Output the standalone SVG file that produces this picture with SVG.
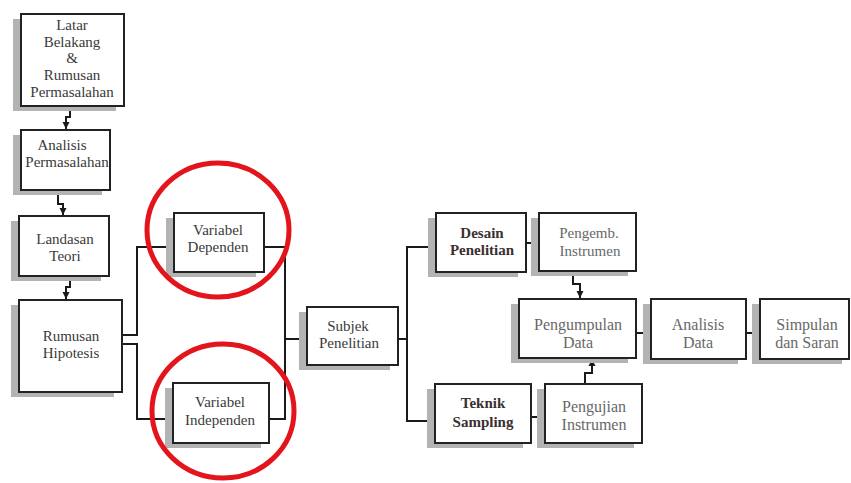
<svg xmlns="http://www.w3.org/2000/svg" width="851" height="483" viewBox="0 0 851 483">
  <style>
    .shadow { fill: #b3b3b3; }
    .box { fill: #ffffff; stroke: #222222; stroke-width: 2; }
    .lbl { font-size: 15px; fill: #3a3a3a; text-anchor: middle; }
    .lite { fill: #686868; }
    .big { font-size: 16px; }
    .bold { font-weight: bold; fill: #3a3030; }
    .wire { fill: none; stroke: #1a1a1a; stroke-width: 2; }
    .ring { fill: none; stroke: #e3141c; stroke-width: 5; }
  </style>
  <defs>
    <marker id="arrow" markerWidth="8" markerHeight="8" refX="7" refY="4" orient="auto" markerUnits="userSpaceOnUse">
      <path d="M0,0.5 L7,4 L0,7.5 Z" fill="#1a1a1a"/>
    </marker>
  </defs>

  <rect width="851" height="483" fill="#ffffff"/>

  <!-- connectors -->
  <g id="connectors">
    <path class="wire" d="M70,106 V117 H66 V129" marker-end="url(#arrow)"/>
    <path class="wire" d="M58,190 V204 H63 V215" marker-end="url(#arrow)"/>
    <path class="wire" d="M70,276 V287 H66 V299" marker-end="url(#arrow)"/>
    <path class="wire" d="M122,335 H137 V247 H173" marker-end="url(#arrow)"/>
    <path class="wire" d="M122,344 H137 V419 H172" marker-end="url(#arrow)"/>
    <path class="wire" d="M264,247 H285 V339 H306" marker-end="url(#arrow)"/>
    <path class="wire" d="M269,419 H285 V339"/>
    <path class="wire" d="M398,339 H407 V247 H435" marker-end="url(#arrow)"/>
    <path class="wire" d="M407,339 V421 H434" marker-end="url(#arrow)"/>
    <path class="wire" d="M526,243 H538" marker-end="url(#arrow)"/>
    <path class="wire" d="M573,271 V284 H580 V298" marker-end="url(#arrow)"/>
    <path class="wire" d="M531,417 H544" marker-end="url(#arrow)"/>
    <path class="wire" d="M585,384 V373 H592 V359" marker-end="url(#arrow)"/>
    <path class="wire" d="M636,333 H650" marker-end="url(#arrow)"/>
    <path class="wire" d="M746,333 H759" marker-end="url(#arrow)"/>
  </g>

  <!-- nodes -->
  <g font-family="'Liberation Serif', 'DejaVu Serif', serif">
  <g id="latar-belakang">
    <rect class="shadow" x="13" y="19" width="103" height="92"/>
    <rect class="box" x="21" y="14" width="103" height="92"/>
    <text class="lbl"><tspan x="72" y="30">Latar</tspan><tspan x="72" y="47">Belakang</tspan><tspan x="72" y="63">&amp;</tspan><tspan x="72" y="80">Rumusan</tspan><tspan x="72" y="97">Permasalahan</tspan></text>
  </g>

  <g id="analisis-permasalahan">
    <rect class="shadow" x="13" y="135" width="89" height="60"/>
    <rect class="box" x="21" y="130" width="89" height="60"/>
    <text class="lbl"><tspan x="62" y="150">Analisis</tspan><tspan x="67" y="167">Permasalahan</tspan></text>
  </g>

  <g id="landasan-teori">
    <rect class="shadow" x="11" y="221" width="90" height="60"/>
    <rect class="box" x="19" y="216" width="90" height="60"/>
    <text class="lbl"><tspan x="65" y="244">Landasan</tspan><tspan x="65" y="261">Teori</tspan></text>
  </g>

  <g id="rumusan-hipotesis">
    <rect class="shadow" x="11" y="305" width="103" height="92"/>
    <rect class="box" x="19" y="300" width="103" height="92"/>
    <text class="lbl"><tspan x="71" y="341">Rumusan</tspan><tspan x="71" y="358">Hipotesis</tspan></text>
  </g>

  <g id="variabel-dependen">
    <rect class="shadow" x="166" y="218" width="90" height="59"/>
    <rect class="box" x="174" y="213" width="90" height="59"/>
    <text class="lbl"><tspan x="218" y="235">Variabel</tspan><tspan x="218" y="252">Dependen</tspan></text>
  </g>

  <g id="variabel-independen">
    <rect class="shadow" x="165" y="388" width="96" height="60"/>
    <rect class="box" x="173" y="383" width="96" height="60"/>
    <text class="lbl"><tspan x="220" y="407">Variabel</tspan><tspan x="220" y="425">Independen</tspan></text>
  </g>

  <g id="subjek-penelitian">
    <rect class="shadow" x="299" y="312" width="91" height="58"/>
    <rect class="box" x="307" y="307" width="91" height="58"/>
    <text class="lbl"><tspan x="348" y="331">Subjek</tspan><tspan x="349" y="348">Penelitian</tspan></text>
  </g>

  <g id="desain-penelitian">
    <rect class="shadow" x="428" y="218" width="90" height="59"/>
    <rect class="box" x="436" y="213" width="90" height="59"/>
    <text class="lbl bold"><tspan x="482" y="238">Desain</tspan><tspan x="482" y="255">Penelitian</tspan></text>
  </g>

  <g id="pengemb-instrumen">
    <rect class="shadow" x="531" y="218" width="97" height="58"/>
    <rect class="box" x="539" y="213" width="97" height="58"/>
    <text class="lbl lite"><tspan x="589" y="238">Pengemb.</tspan><tspan x="590" y="256">Instrumen</tspan></text>
  </g>

  <g id="pengumpulan-data">
    <rect class="shadow" x="511" y="304" width="117" height="59"/>
    <rect class="box" x="519" y="299" width="117" height="59"/>
    <text class="lbl lite big"><tspan x="578" y="330">Pengumpulan</tspan><tspan x="578" y="348">Data</tspan></text>
  </g>

  <g id="teknik-sampling">
    <rect class="shadow" x="427" y="389" width="96" height="59"/>
    <rect class="box" x="435" y="384" width="96" height="59"/>
    <text class="lbl bold"><tspan x="483" y="408">Teknik</tspan><tspan x="483" y="427">Sampling</tspan></text>
  </g>

  <g id="pengujian-instrumen">
    <rect class="shadow" x="537" y="389" width="97" height="59"/>
    <rect class="box" x="545" y="384" width="97" height="59"/>
    <text class="lbl lite big"><tspan x="594" y="412">Pengujian</tspan><tspan x="594" y="430">Instrumen</tspan></text>
  </g>

  <g id="analisis-data">
    <rect class="shadow" x="643" y="304" width="95" height="60"/>
    <rect class="box" x="651" y="299" width="95" height="60"/>
    <text class="lbl lite big"><tspan x="698" y="330">Analisis</tspan><tspan x="698" y="348">Data</tspan></text>
  </g>

  <g id="simpulan-saran">
    <rect class="shadow" x="752" y="304" width="90" height="60"/>
    <rect class="box" x="760" y="299" width="89" height="60"/>
    <text class="lbl lite big"><tspan x="807" y="330">Simpulan</tspan><tspan x="807" y="348">dan Saran</tspan></text>
  </g>
  </g>

  <!-- red highlight rings -->
  <g id="highlights">
    <ellipse class="ring" cx="218" cy="230" rx="71" ry="67"/>
    <ellipse class="ring" cx="223" cy="411" rx="71" ry="67"/>
  </g>
</svg>
